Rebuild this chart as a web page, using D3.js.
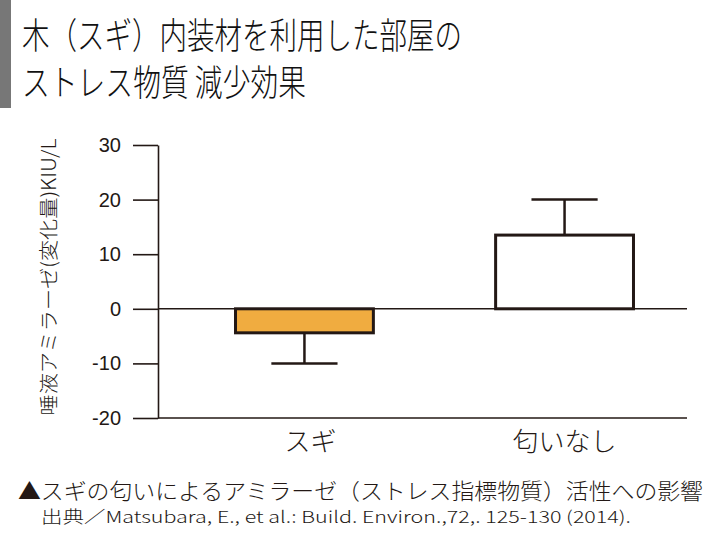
<!DOCTYPE html>
<html>
<head>
<meta charset="utf-8">
<script src="https://cdn.jsdelivr.net/npm/d3@7"></script>
<style>
  html, body { margin: 0; padding: 0; background: #fff; }
  svg { display: block; }
</style>
</head>
<body>
<svg id="chart" width="720" height="540"></svg>
<script>
const titleLines = ["木（スギ）内装材を利用した部屋の", "ストレス物質 減少効果"];
const categories = ["スギ", "匂いなし"];
const values = [-4.4, 13.5];
const errors = [5.6, 6.5];
const fills = ["#F0AC40", "#ffffff"];
const yTicks = [-20, -10, 0, 10, 20, 30];
const yLabel = "唾液アミラーゼ(変化量)KIU/L";
const caption = "▲スギの匂いによるアミラーゼ（ストレス指標物質）活性への影響";
const source = "出典／Matsubara, E., et al.: Build. Environ.,72,. 125-130 (2014).";

const ink = "#231815";
const jp = "'Noto Sans CJK JP', 'Noto Sans', sans-serif";
const svg = d3.select("#chart");

// title block
svg.append("rect").attr("x", 0).attr("y", 0).attr("width", 11).attr("height", 108).attr("fill", "#777777");
const titleLens = [440, 284];
titleLines.forEach((t, i) => {
  svg.append("text")
    .attr("x", 22).attr("y", 49 + i * 47)
    .attr("font-family", jp).attr("font-size", 36).attr("font-weight", 300)
    .attr("fill", "#111")
    .attr("textLength", titleLens[i]).attr("lengthAdjust", "spacingAndGlyphs")
    .text(t);
});

const y = d3.scaleLinear().domain([-20, 30]).range([418, 145]);
const x = d3.scaleBand().domain(categories).range([158, 711]).paddingInner(0.47).paddingOuter(0.298);
const plotRight = 687;

// axis
const yAxis = d3.axisLeft(y).tickValues(yTicks).tickFormat(d => String(d))
  .tickSize(25).tickSizeOuter(0).tickPadding(12);
const ax = svg.append("g").attr("transform", "translate(158,0)").call(yAxis);
ax.select(".domain").attr("stroke", ink).attr("stroke-width", 1.6);
ax.selectAll(".tick line").attr("stroke", ink).attr("stroke-width", 1.6);
ax.selectAll(".tick text")
  .attr("font-family", "'Liberation Sans', Arial, sans-serif")
  .attr("font-size", 20).attr("fill", ink);

// horizontal reference lines at 0 and bottom
[0, -20].forEach(v => {
  svg.append("line")
    .attr("x1", 158).attr("x2", plotRight)
    .attr("y1", y(v)).attr("y2", y(v))
    .attr("stroke", ink).attr("stroke-width", 1.6);
});

// bars
categories.forEach((c, i) => {
  const v = values[i];
  svg.append("rect")
    .attr("x", x(c)).attr("width", x.bandwidth())
    .attr("y", y(Math.max(0, v))).attr("height", Math.abs(y(v) - y(0)))
    .attr("fill", fills[i]).attr("stroke", ink).attr("stroke-width", 3);
  const cx = x(c) + x.bandwidth() / 2;
  const end = v + Math.sign(v) * errors[i];
  const capHalf = x.bandwidth() * 0.24;
  svg.append("line")
    .attr("x1", cx).attr("x2", cx).attr("y1", y(v)).attr("y2", y(end))
    .attr("stroke", ink).attr("stroke-width", 2.5);
  svg.append("line")
    .attr("x1", cx - capHalf).attr("x2", cx + capHalf).attr("y1", y(end)).attr("y2", y(end))
    .attr("stroke", ink).attr("stroke-width", 2.5);
  svg.append("text")
    .attr("x", cx + (i === 0 ? 6 : 0)).attr("y", 451)
    .attr("text-anchor", "middle")
    .attr("font-family", jp).attr("font-size", 26).attr("font-weight", 300).attr("fill", ink)
    .text(c);
});

// y label
svg.append("text")
  .attr("transform", "translate(56,277) rotate(-90)")
  .attr("text-anchor", "middle")
  .attr("font-family", jp).attr("font-size", 19.5).attr("font-weight", 300).attr("fill", ink)
  .attr("textLength", 277).attr("lengthAdjust", "spacingAndGlyphs")
  .text(yLabel);

// caption & source
svg.append("text")
  .attr("x", 18).attr("y", 499)
  .attr("font-family", jp).attr("font-size", 22).attr("font-weight", 300).attr("fill", ink)
  .attr("textLength", 685).attr("lengthAdjust", "spacingAndGlyphs")
  .text(caption);
svg.append("text")
  .attr("x", 41).attr("y", 523)
  .attr("font-family", jp).attr("font-size", 16.5).attr("font-weight", 300).attr("fill", ink)
  .attr("textLength", 590).attr("lengthAdjust", "spacingAndGlyphs")
  .text(source);
</script>
</body>
</html>
